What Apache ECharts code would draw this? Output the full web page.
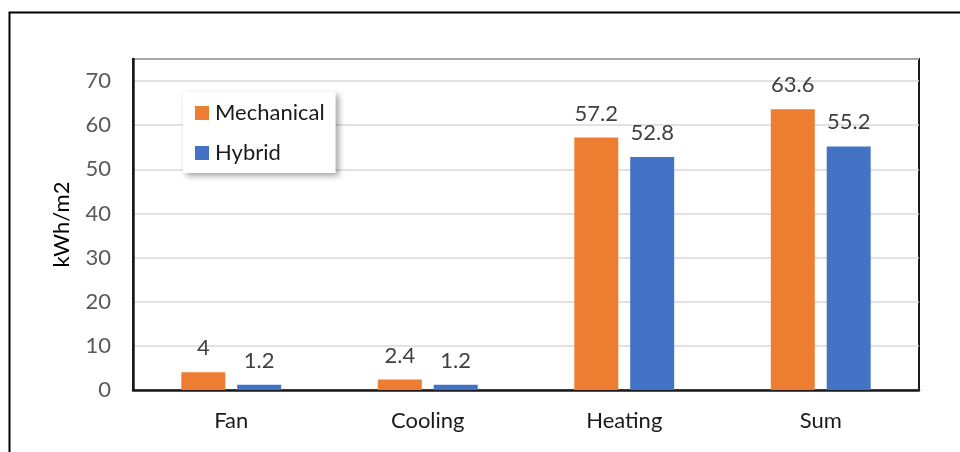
<!DOCTYPE html>
<html>
<head>
<meta charset="utf-8">
<script src="https://cdn.jsdelivr.net/npm/echarts@6/dist/echarts.min.js"></script>
<style>
  html, body { margin: 0; padding: 0; background: #fff; }
  #chart { width: 960px; height: 452px; }
</style>
</head>
<body>
<div id="chart"></div>
<script>
// Energy use per floor area by end use
const categories = ['Fan', 'Cooling', 'Heating', 'Sum'];
const mechanical = [4, 2.4, 57.2, 63.6];
const hybrid = [1.2, 1.2, 52.8, 55.2];
const seriesNames = ['Mechanical', 'Hybrid'];
const yTitle = 'kWh/m2';

const FONT = 'Lato, "Open Sans", sans-serif';
const FS = 22;
const ORANGE = '#ED7D31';
const BLUE = '#4472C4';

const chart = echarts.init(document.getElementById('chart'), null, { renderer: 'canvas' });

const labelStyle = {
  show: true,
  position: 'top',
  distance: 13,
  color: '#404040',
  fontFamily: FONT,
  fontSize: FS
};

chart.setOption({
  animation: false,
  backgroundColor: '#fff',
  textStyle: { fontFamily: FONT },
  graphic: [
    {
      type: 'polyline',
      shape: { points: [[9.5, 460], [9.5, 12.5], [970, 12.5]] },
      style: { stroke: '#000', lineWidth: 2, fill: null },
      silent: true
    }
  ],
  grid: {
    left: 133,
    right: 41,
    top: 59,
    bottom: 62,
    show: true,
    borderColor: '#1a1a1a',
    borderWidth: 2,
    backgroundColor: 'transparent'
  },
  legend: {
    data: seriesNames,
    orient: 'vertical',
    left: 183,
    top: 92,
    icon: 'rect',
    itemWidth: 14,
    itemHeight: 14,
    itemGap: 18,
    padding: [10, 11, 9, 12],
    backgroundColor: '#fff',
    shadowBlur: 6,
    shadowOffsetX: 3,
    shadowOffsetY: 3,
    shadowColor: 'rgba(0,0,0,0.35)',
    textStyle: { color: '#1a1a1a', fontFamily: FONT, fontSize: FS, padding: [0, 0, 0, 1] }
  },
  xAxis: {
    type: 'category',
    data: categories,
    axisLine: { show: true, lineStyle: { color: '#1a1a1a', width: 2.5 } },
    axisTick: { show: false },
    axisLabel: { color: '#1a1a1a', fontFamily: FONT, fontSize: FS, margin: 20 }
  },
  yAxis: {
    type: 'value',
    min: 0,
    max: 75,
    interval: 10,
    name: yTitle,
    nameLocation: 'middle',
    nameGap: 60,
    nameTextStyle: { color: '#000', fontFamily: FONT, fontSize: FS },
    axisLine: { show: true, lineStyle: { color: '#1a1a1a', width: 2.5 } },
    axisTick: { show: false },
    axisLabel: { color: '#595959', fontFamily: FONT, fontSize: FS, margin: 22, showMaxLabel: false },
    splitLine: { show: true, lineStyle: { color: '#d9d9d9', width: 1.5 } }
  },
  series: [
    {
      name: seriesNames[0],
      type: 'bar',
      data: mechanical,
      barWidth: 44,
      barGap: '27%',
      itemStyle: { color: ORANGE },
      label: labelStyle
    },
    {
      name: seriesNames[1],
      type: 'bar',
      data: hybrid,
      barWidth: 44,
      itemStyle: { color: BLUE },
      label: labelStyle
    }
  ]
});
</script>
</body>
</html>
